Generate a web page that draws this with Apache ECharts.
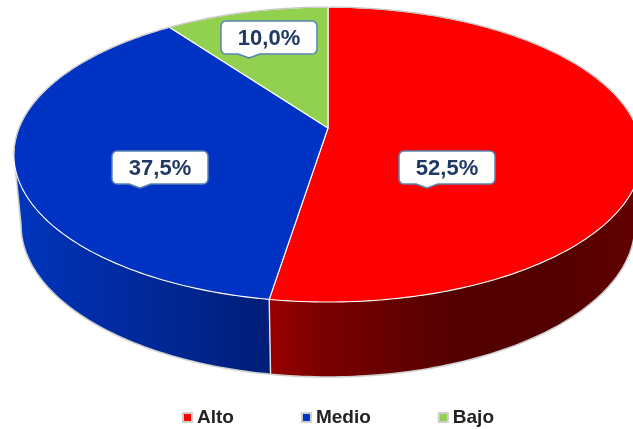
<!DOCTYPE html>
<html><head><meta charset="utf-8">
<style>html,body{margin:0;padding:0;background:#fff;overflow:hidden}#c{width:633px;height:429px}</style>
<script src="https://cdn.jsdelivr.net/npm/echarts@6/dist/echarts.min.js"></script>
</head><body><div id="c"></div>
<script>
const categories = ['Alto', 'Medio', 'Bajo'];
const shares = [52.5, 37.5, 10.0];
const topColors = ['#FF0000', '#0033C4', '#92D050'];

// projection of the disc's rim (perspective circle)
const TOP = {cx: 328, cy: 128, a: 309, b: 142.7, k: 0.18};
const BOT = {cx: 328, cy: 197.7, a: 302, b: 147, k: 0.18};
const calloutBox = [{x: 399, y: 151}, {x: 112, y: 151}, {x: 221, y: 21}];
const BOX_W = 96, BOX_H = 33;
const SIL_R = 100.4, SIL_L = 259.6; // rim angles where the side wall meets the outline
const wallGradients = [
  {x: 270, x2: 640, stops: [[0, '#980000'], [0.13, '#7D0000'], [0.49, '#540000'], [0.76, '#520000'], [1, '#620000']]},
  {x: 10, x2: 270, stops: [[0, '#0036BE'], [0.35, '#002CA5'], [1, '#001E78']]}
];

function proj(p, deg) {
  const t = deg * Math.PI / 180, d = 1 + p.k * Math.cos(t);
  return [p.cx + p.a * Math.sin(t) / d, p.cy - p.b * Math.cos(t) / d];
}
function arc(p, a0, a1, step) {
  const pts = [], n = Math.max(1, Math.ceil(Math.abs(a1 - a0) / (step || 1)));
  for (let i = 0; i <= n; i++) pts.push(proj(p, a0 + (a1 - a0) * i / n));
  return pts;
}
function callout(x, y) {
  const w = BOX_W, h = BOX_H, r = 5, pts = [];
  const corner = (cx, cy, s) => { for (let i = 0; i <= 4; i++) { const t = (s + i * 22.5) * Math.PI / 180; pts.push([cx + r * Math.cos(t), cy + r * Math.sin(t)]); } };
  corner(x + r, y + r, 180); corner(x + w - r, y + r, 270); corner(x + w - r, y + h - r, 0);
  pts.push([x + 39, y + h], [x + 28, y + h + 4], [x + 17, y + h]);
  corner(x + r, y + h - r, 90);
  return pts;
}
const total = shares.reduce((a, b) => a + b, 0);
function range(i) {
  let s = 0; for (let j = 0; j < i; j++) s += shares[j];
  return [s / total * 360, (s + shares[i]) / total * 360];
}
function renderSlice(params, api) {
  const i = params.seriesIndex, [a0, a1] = range(i), kids = [];
  // front wall
  const w0 = Math.max(a0, SIL_R), w1 = Math.min(a1, SIL_L);
  if (w1 > w0) {
    const g = wallGradients[i];
    kids.push({type: 'polygon',
      shape: {points: arc(TOP, w0, w1).concat(arc(BOT, w1, w0))},
      style: {fill: {type: 'linear', global: true, x: g.x, y: 0, x2: g.x2, y2: 0,
        colorStops: g.stops.map(s => ({offset: s[0], color: s[1]}))}}, silent: true});
    kids.push({type: 'polyline', shape: {points: arc(BOT, w0, w1).concat(w1 === SIL_L ? [proj(TOP, SIL_L)] : [])},
      style: {fill: null, stroke: '#cfcfcf', lineWidth: 1.6}, silent: true});
  }
  // top face
  const poly = [[TOP.cx, TOP.cy]].concat(arc(TOP, a0, a1));
  kids.push({type: 'polygon', shape: {points: poly}, style: {fill: topColors[i], stroke: '#fff', lineWidth: 1.1, lineJoin: 'round'}});
  if (i === 1) {
    const p = proj(TOP, a0), b = proj(BOT, a0);
    kids.push({type: 'line', shape: {x1: p[0], y1: p[1], x2: b[0], y2: b[1]}, style: {stroke: '#e6e6e6', lineWidth: 1.4}, silent: true});
  }
  const g0 = Math.max(a0, SIL_L);
  if (a1 > g0) kids.push({type: 'polyline', shape: {points: arc(TOP, g0, a1)}, style: {fill: null, stroke: '#c8c8c8', lineWidth: 1.3}, silent: true});
  if (i === 0) kids.push({type: 'polyline', shape: {points: arc(TOP, a0, SIL_R)}, style: {fill: null, stroke: '#c8c8c8', lineWidth: 1.3}, silent: true});
  // callout
  const b = calloutBox[i];
  kids.push({type: 'polygon', shape: {points: callout(b.x, b.y)}, style: {fill: '#fff', stroke: '#5B84B1', lineWidth: 1.5, lineJoin: 'round'}});
  kids.push({type: 'text', x: b.x + BOX_W / 2, y: b.y + BOX_H / 2 + 1,
    style: {text: shares[i].toFixed(1).replace('.', ',') + '%', fill: '#1F3864', font: 'bold 22px "Liberation Sans", Arial, sans-serif', align: 'center', verticalAlign: 'middle'}});
  return {type: 'group', children: kids};
}
const chart = echarts.init(document.getElementById('c'), null, {renderer: 'canvas'});
chart.setOption({
  animation: false,
  backgroundColor: '#fff',
  legend: {
    left: 177, top: 403, itemWidth: 9, itemHeight: 9, itemGap: 67, icon: 'rect', selectedMode: false,
    textStyle: {fontFamily: '"Liberation Sans", Arial, sans-serif', fontWeight: 'bold', fontSize: 19, color: '#222', padding: [0, 0, 0, 0]},
    data: categories.map(n => ({name: n, itemStyle: {borderColor: '#cfcfcf', borderWidth: 2}}))
  },
  series: categories.map((n, i) => ({
    type: 'custom', name: n, coordinateSystem: 'none', clip: false,
    itemStyle: {color: topColors[i]},
    data: [shares[i]], renderItem: renderSlice
  }))
});
</script></body></html>
